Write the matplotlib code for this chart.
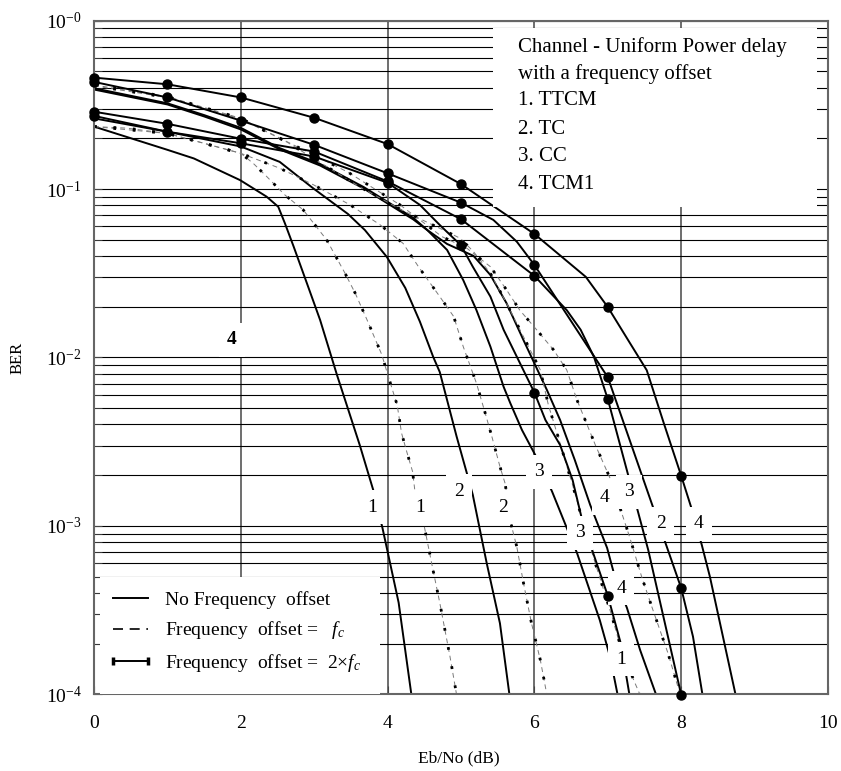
import matplotlib
matplotlib.use("Agg")
import matplotlib.pyplot as plt
import numpy as np
from matplotlib.lines import Line2D
from matplotlib.patches import Rectangle
from matplotlib.ticker import LogLocator, FixedLocator, FixedFormatter, NullFormatter

plt.rcParams['font.family'] = ['Liberation Serif', 'DejaVu Serif']
plt.rcParams['mathtext.fontset'] = 'custom'
plt.rcParams['mathtext.rm'] = 'Liberation Serif'
plt.rcParams['mathtext.it'] = 'Liberation Serif:italic'

# ---------------- BER vs Eb/No (dB) ----------------
# No frequency offset (solid)
ttcm_none_x = [0, 1.0, 1.36, 1.99, 2.35, 2.51, 2.60, 2.72, 2.90, 3.08, 3.31, 3.62, 3.81, 3.93, 4.15, 4.33]
ttcm_none_ber = [0.235, 0.171, 0.152, 0.113, 0.0902, 0.0785, 0.0627, 0.0455, 0.0276, 0.0167, 0.00787,
                 0.00302, 0.00160, 9.7e-4, 3.5e-4, 9.5e-5]
tc_none_x = [0, 1.0, 2.0, 2.53, 2.98, 3.46, 3.69, 3.99, 4.24, 4.44, 4.62, 4.71, 4.94, 5.08, 5.16, 5.35, 5.53, 5.66]
tc_none_ber = [0.263, 0.219, 0.179, 0.145, 0.1015, 0.0711, 0.0571, 0.0395, 0.0259, 0.0163, 0.0101, 0.0082,
               0.00339, 0.00205, 0.00153, 6.0e-4, 2.64e-4, 9.9e-5]
cc_none_x = [0, 1.0, 1.5, 2.0, 2.53, 3.08, 3.67, 4.0, 4.35, 4.54, 4.81, 5.03, 5.21, 5.40, 5.58, 5.67, 5.83,
             6.01, 6.24, 6.49, 6.58, 6.89, 7.03, 7.14]
cc_none_ber = [0.397, 0.323, 0.275, 0.231, 0.175, 0.141, 0.103, 0.0839, 0.0674, 0.0571, 0.0435, 0.0288, 0.0191,
               0.0116, 0.0067, 0.00537, 0.00371, 0.00264, 0.00160, 8.6e-4, 6.9e-4, 2.76e-4, 1.67e-4, 9.6e-5]
tcm1_none_x = [0, 1.0, 1.5, 2.0, 2.53, 3.08, 3.67, 4.0, 4.35, 4.54, 4.81, 5.17, 5.40, 5.62, 5.85, 6.17, 6.35,
               6.55, 6.76, 6.99, 7.10, 7.26, 7.44, 7.67]
tcm1_none_ber = [0.390, 0.318, 0.270, 0.226, 0.172, 0.138, 0.101, 0.0821, 0.0660, 0.0571, 0.0472, 0.0401,
                 0.0309, 0.0210, 0.0127, 0.00641, 0.00425, 0.00246, 0.00133, 7.4e-4, 4.9e-4, 3.26e-4,
                 1.83e-4, 9.6e-5]

# Frequency offset = fc (dashed)
ttcm_fc_x = [0, 0.45, 1.0, 1.5, 2.0, 2.17, 2.35, 2.6, 2.85, 3.17, 3.42, 3.56, 3.72, 3.92, 4.01, 4.13, 4.19,
             4.26, 4.34, 4.37, 4.5, 4.61, 4.71, 4.85, 4.94]
ttcm_fc_ber = [0.235, 0.230, 0.214, 0.187, 0.163, 0.142, 0.119, 0.0923, 0.0752, 0.0499, 0.0316, 0.0240,
               0.0167, 0.0104, 0.00769, 0.00522, 0.00355, 0.00276, 0.00210, 0.00163, 9.9e-4, 5.7e-4,
               3.5e-4, 1.67e-4, 9.9e-5]
tc_fc_x = [0, 1.0, 2.0, 2.53, 2.99, 3.49, 3.90, 4.21, 4.42, 4.71, 4.90, 5.03, 5.21, 5.33, 5.42, 5.53, 5.60,
           5.69, 5.76, 5.85, 5.96, 6.08, 6.17]
tc_fc_ber = [0.235, 0.214, 0.163, 0.133, 0.106, 0.0805, 0.0612, 0.0476, 0.0346, 0.0230, 0.0175, 0.0116,
             0.00703, 0.00466, 0.00339, 0.00225, 0.00179, 9.9e-4, 7.5e-4, 4.6e-4, 2.64e-4, 1.6e-4, 9.9e-5]
cc_fc_x = [0, 1.0, 2.0, 2.63, 3.62, 4.21, 4.71, 4.99, 5.17, 5.40, 5.62, 5.85, 6.08, 6.19, 6.35, 6.45, 6.52,
           6.70, 6.85, 7.05, 7.14, 7.35, 7.44]
cc_fc_ber = [0.410, 0.350, 0.261, 0.190, 0.103, 0.0744, 0.0585, 0.0510, 0.0425, 0.0316, 0.0210, 0.0133,
             0.00843, 0.00522, 0.00309, 0.00220, 0.00175, 9.1e-4, 5.6e-4, 2.96e-4, 2.15e-4, 1.22e-4, 9.9e-5]
tcm1_fc_x = [0, 1.0, 2.0, 2.63, 3.46, 4.17, 4.74, 5.08, 5.40, 5.62, 5.80, 6.03, 6.26, 6.44, 6.58, 6.83, 7.03,
             7.19, 7.30, 7.46, 7.60, 7.82, 8.0]
tcm1_fc_ber = [0.415, 0.354, 0.263, 0.191, 0.126, 0.0805, 0.0522, 0.0445, 0.0346, 0.0252, 0.0191, 0.0146,
               0.0111, 0.00843, 0.00559, 0.00302, 0.00192, 0.00119, 8.5e-4, 5.0e-4, 3.3e-4, 1.75e-4, 9.5e-5]

# Frequency offset = 2 x fc (solid with dots at the simulated integer points)
tcm1_2fc_x = [0, 1, 2, 3, 4, 5, 6, 6.7, 7, 7.3, 7.53, 7.76, 8, 8.14, 8.28, 8.39, 8.75]
tcm1_2fc_ber = [0.459, 0.419, 0.350, 0.265, 0.185, 0.107, 0.0541, 0.0301, 0.0199, 0.0122, 0.0084, 0.0041,
                0.00198, 0.00127, 7.7e-4, 5.0e-4, 9.5e-5]
tc_2fc_x = [0, 1, 2, 3, 4, 5, 5.44, 5.76, 6, 7, 8, 8.16, 8.29]
tc_2fc_ber = [0.433, 0.350, 0.255, 0.183, 0.124, 0.083, 0.0656, 0.0487, 0.0354, 0.00762, 4.26e-4, 2.2e-4, 9.9e-5]
cc_2fc_x = [0, 1, 2, 3, 4, 5, 6, 6.44, 6.63, 6.81, 7, 7.55, 8]
cc_2fc_ber = [0.288, 0.244, 0.199, 0.167, 0.111, 0.0662, 0.0305, 0.0191, 0.0146, 0.0101, 0.00565, 7.2e-4, 9.9e-5]
ttcm_2fc_x = [0, 1, 2, 3, 4, 4.44, 4.71, 5, 5.16, 5.4, 5.58, 6, 6.15, 6.35, 6.52, 6.64, 6.8, 7, 7.17, 7.26, 7.3]
ttcm_2fc_ber = [0.272, 0.219, 0.187, 0.156, 0.109, 0.0805, 0.0612, 0.0463, 0.0346, 0.0230, 0.0146, 0.00618,
                0.00425, 0.00302, 0.00187, 0.00113, 6.9e-4, 3.84e-4, 2.05e-4, 1.22e-4, 9.6e-5]

# Curve number tags: (label, Eb/No, BER)
curve_tags = [
    ("1", 3.79, 1.29e-3), ("1", 4.44, 1.29e-3), ("2", 4.97, 1.61e-3), ("2", 5.57, 1.29e-3),
    ("3", 6.06, 2.09e-3), ("3", 6.62, 9.1e-4), ("4", 6.96, 1.47e-3), ("3", 7.29, 1.59e-3),
    ("2", 7.72, 1.03e-3), ("4", 8.24, 1.03e-3), ("4", 7.18, 4.27e-4), ("1", 7.18, 1.62e-4),
]
bold_tag = ("4", 1.88, 0.0127)

info_lines = ["Channel - Uniform Power delay", "with a frequency offset",
              "1. TTCM", "2. TC", "3. CC", "4. TCM1"]
legend_labels = ["No Frequency  offset", "Frequency  offset =   $f_c$",
                 "Frequency  offset =  $2{\\times}f_c$"]
x_ticks = [0, 2, 4, 6, 8, 10]
y_ticks = [1e-4, 1e-3, 1e-2, 1e-1, 1e0]
y_tick_labels = [r"$\mathregular{10^{-4}}$", r"$\mathregular{10^{-3}}$", r"$\mathregular{10^{-2}}$",
                 r"$\mathregular{10^{-1}}$", r"$\mathregular{10^{-0}}$"]

# ---------------- figure ----------------
fig = plt.figure(figsize=(8.41, 7.71), dpi=100)
ax = fig.add_axes([0.1118, 0.0995, 0.8728, 0.8737])
ax.set_yscale('log')
ax.set_xlim(0, 10)
ax.set_ylim(1e-4, 1)

ax.yaxis.set_major_locator(FixedLocator(y_ticks))
ax.yaxis.set_major_formatter(FixedFormatter(y_tick_labels))
ax.yaxis.set_minor_locator(LogLocator(base=10, subs=np.arange(2, 10)))
ax.yaxis.set_minor_formatter(NullFormatter())
ax.set_xticks(x_ticks)
ax.set_xticklabels([str(v) for v in x_ticks])
ax.tick_params(axis='both', which='both', direction='in', labelsize=14, colors='#444', labelcolor='black')
ax.tick_params(axis='y', which='major', length=6, pad=9)
ax.tick_params(axis='y', which='minor', length=6)
ax.tick_params(axis='x', which='major', length=6, pad=15)

ax.grid(True, axis='y', which='both', color='black', lw=0.8, zorder=0.5)
ax.grid(True, axis='x', which='major', color='#555555', lw=1.2, zorder=0.5)
ax.set_axisbelow(True)
for sp in ax.spines.values():
    sp.set_color('#666666')
    sp.set_linewidth(1.5)

solid_kw = dict(color='black', lw=1.4, solid_joinstyle='round', zorder=2)

for xs, ys in [(ttcm_none_x, ttcm_none_ber), (tc_none_x, tc_none_ber),
               (cc_none_x, cc_none_ber), (tcm1_none_x, tcm1_none_ber)]:
    ax.plot(xs, ys, **solid_kw)

for xs, ys in [(ttcm_fc_x, ttcm_fc_ber), (tc_fc_x, tc_fc_ber),
               (cc_fc_x, cc_fc_ber), (tcm1_fc_x, tcm1_fc_ber)]:
    ax.plot(xs, ys, color='#7a7a7a', lw=0.7, linestyle=(0, (5, 4)), zorder=2)
    ax.plot(xs, ys, color='black', lw=2.0, linestyle=(0, (1.0, 6.0)), dash_capstyle='butt', zorder=2)

for xs, ys in [(tcm1_2fc_x, tcm1_2fc_ber), (tc_2fc_x, tc_2fc_ber),
               (cc_2fc_x, cc_2fc_ber), (ttcm_2fc_x, ttcm_2fc_ber)]:
    xs = np.asarray(xs, float)
    ys = np.asarray(ys, float)
    ax.plot(xs, ys, **solid_kw)
    pts = np.isclose(xs, np.round(xs)) & (ys >= 9.5e-5)
    ax.plot(xs[pts], ys[pts], 'o', color='black', ms=6.5, zorder=6, clip_on=False)

# curve number tags with white backing
for s, xv, yv in curve_tags:
    ax.text(xv, yv, s, fontsize=14, ha='center', va='center', zorder=5,
            bbox=dict(facecolor='white', edgecolor='none', pad=6))
ax.text(bold_tag[1], bold_tag[2], bold_tag[0], fontsize=14, fontweight='bold', ha='center',
        va='center', zorder=5, bbox=dict(facecolor='white', edgecolor='none', pad=6))

# description block, top right
ax.add_patch(Rectangle((0.5436, 0.7234), 0.4414, 0.2658, transform=ax.transAxes,
                       facecolor='white', edgecolor='none', zorder=7))
line_y = [0.9614, 0.9209, 0.8813, 0.8378, 0.7982, 0.7562]
for s, yy in zip(info_lines, line_y):
    ax.text(0.5777, yy, s, transform=ax.transAxes, fontsize=15, ha='left', va='center', zorder=8)

# legend, bottom left
ax.add_patch(Rectangle((0.008, 0.0), 0.382, 0.174, transform=ax.transAxes,
                       facecolor='white', edgecolor='none', zorder=7))
handles = [Line2D([], [], color='black', lw=1.4),
           Line2D([], [], color='black', lw=1.2, linestyle=(0, (6, 4))),
           Line2D([], [], color='black', lw=1.4, marker='|', ms=6, mew=2.5)]
leg = ax.legend(handles, legend_labels, loc='lower left', bbox_to_anchor=(0.0177, 0.030),
                frameon=False, fontsize=14, handlelength=2.42, handletextpad=0.57,
                labelspacing=0.55, borderpad=0.0, borderaxespad=0.0, numpoints=2)
leg.set_zorder(8)

ax.set_xlabel("Eb/No (dB)", fontsize=12.5)
ax.set_ylabel("BER", fontsize=12)
ax.xaxis.set_label_coords(0.497, -0.084)
ax.yaxis.set_label_coords(-0.094, 0.5)

fig.savefig("out.png", dpi=100, facecolor='white')
